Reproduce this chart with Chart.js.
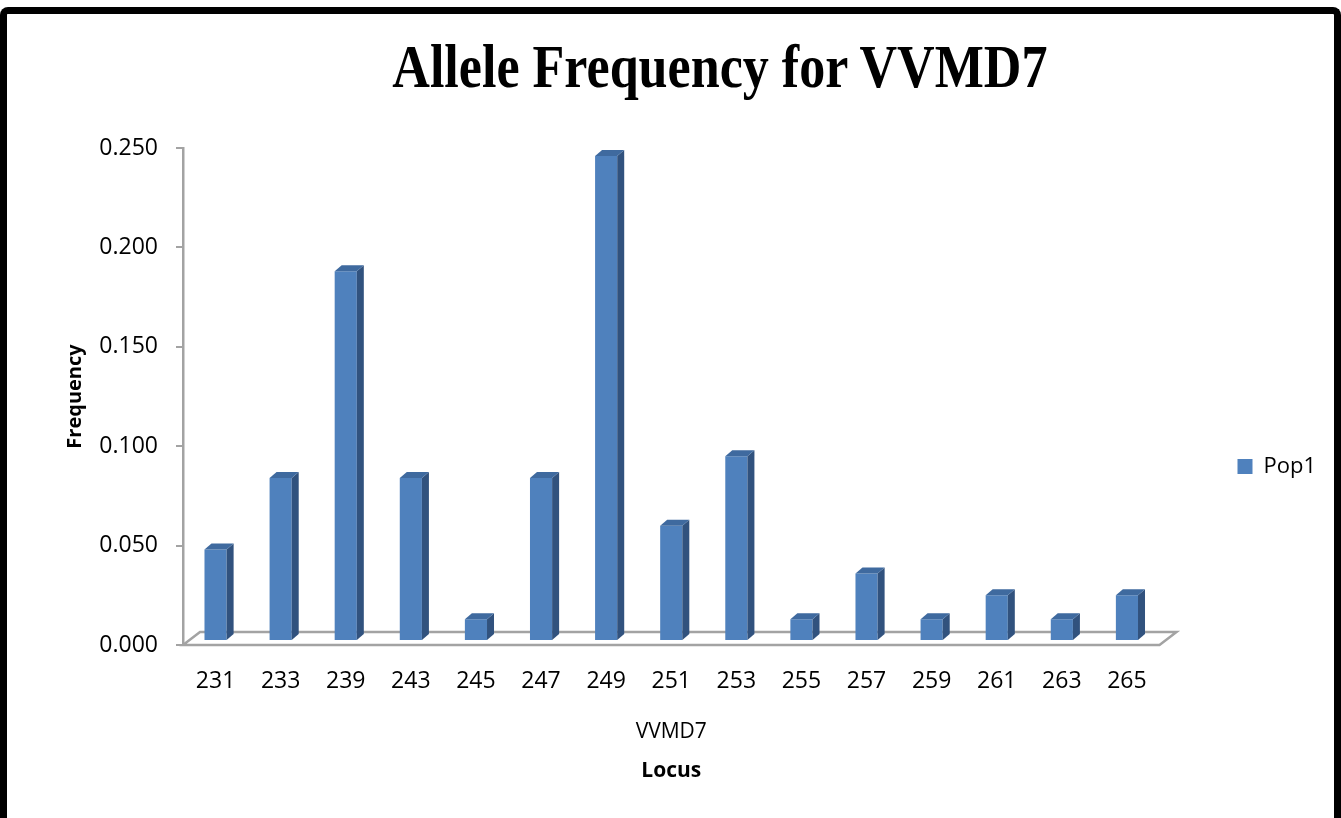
<!DOCTYPE html>
<html>
<head>
<meta charset="utf-8">
<script src="https://cdn.jsdelivr.net/npm/chart.js@4/dist/chart.umd.min.js"></script>
<style>
  html, body { margin: 0; padding: 0; background: #fff; overflow: hidden; }
  #wrap { position: relative; width: 1341px; height: 818px; }
  #frame {
    position: absolute; left: 0; top: 7px; width: 1341px; height: 840px;
    box-sizing: border-box; border: 7px solid #000; border-bottom: none;
    border-radius: 8px 8px 0 0;
  }
  #title {
    position: absolute; left: 0; top: 35px; width: 1714px; text-align: center;
    font: bold 62px "Liberation Serif", "Times New Roman", serif; line-height: 62px;
    color: #000; transform: scaleX(0.84); transform-origin: 0 0; white-space: nowrap;
  }
  canvas { position: absolute; left: 0; top: 0; }
</style>
</head>
<body>
<div id="wrap">
  <div id="frame"></div>
  <div id="title">Allele Frequency for VVMD7</div>
  <canvas id="alleleChart" width="1341" height="818"></canvas>
</div>
<script>
// allele sizes at the VVMD7 locus and their frequencies
const alleles = ['231', '233', '239', '243', '245', '247', '249', '251', '253', '255', '257', '259', '261', '263', '265'];
const pop1 = [0.048, 0.084, 0.188, 0.084, 0.013, 0.084, 0.246, 0.060, 0.095, 0.013, 0.036, 0.013, 0.025, 0.013, 0.025];
const yTicks = [0, 0.05, 0.1, 0.15, 0.2, 0.25];
const locusName = ['VVMD7'];

const frontColor = '#4f81bd';
const sideColor = '#31527e';
const topColor = '#3f6a9f';
const axisGrey = '#a3a3a3';
const depthX = 7, depthY = 6; // extrusion of each column
const floorX = 17, floorY = 13; // depth of the floor plate

// floor plate under the columns
const floorPlugin = {
    id: 'floor',
    beforeDatasetsDraw(chart) {
        const {ctx, chartArea} = chart;
        const y0 = chart.scales.y.getPixelForValue(0);
        ctx.save();
        ctx.strokeStyle = axisGrey;
        ctx.lineWidth = 2.5;
        ctx.beginPath();
        ctx.moveTo(chartArea.left, y0);
        ctx.lineTo(chartArea.left + floorX, y0 - floorY);
        ctx.lineTo(chartArea.right + floorX, y0 - floorY);
        ctx.lineTo(chartArea.right, y0);
        ctx.closePath();
        ctx.stroke();
        ctx.restore();
    }
};

// side and top faces so the bars look like 3-D columns
const columnPlugin = {
    id: 'columns3d',
    afterDatasetsDraw(chart) {
        const ctx = chart.ctx;
        chart.getDatasetMeta(0).data.forEach(bar => {
            const half = bar.width / 2;
            const l = bar.x - half, r = bar.x + half;
            ctx.save();
            ctx.fillStyle = sideColor; //right side
            ctx.beginPath();
            ctx.moveTo(r, bar.y);
            ctx.lineTo(r + depthX, bar.y - depthY);
            ctx.lineTo(r + depthX, bar.base - depthY);
            ctx.lineTo(r, bar.base);
            ctx.closePath();
            ctx.fill();
            ctx.fillStyle = topColor; //top
            ctx.beginPath();
            ctx.moveTo(l, bar.y);
            ctx.lineTo(l + depthX, bar.y - depthY);
            ctx.lineTo(r + depthX, bar.y - depthY);
            ctx.lineTo(r, bar.y);
            ctx.closePath();
            ctx.fill();
            ctx.restore();
        });
    }
};

const ctx = document.getElementById('alleleChart').getContext('2d');
new Chart(ctx, {
    type: 'bar',
    data: {
        labels: alleles,
        datasets: [{
            label: 'Pop1',
            data: pop1,
            xAxisID: 'x',
            backgroundColor: frontColor,
            borderWidth: 0,
            base: 0.0025,
            categoryPercentage: 1,
            barPercentage: 0.34
        }]
    },
    options: {
        responsive: false,
        animation: false,
        events: [],
        layout: { padding: { top: 148, left: 20, right: 15, bottom: 33 } },
        plugins: {
            legend: {
                position: 'right',
                labels: {
                    boxWidth: 15,
                    boxHeight: 15,
                    padding: 78,
                    color: '#000',
                    font: { family: 'Open Sans', size: 22 }
                }
            },
            tooltip: { enabled: false }
        },
        scales: {
            x: {
                grid: { display: false, drawTicks: false },
                border: { display: false },
                ticks: { padding: 23, color: '#000', font: { family: 'Open Sans', size: 23 } },
                afterFit(s) { s.height = 60; }
            },
            x2: {
                type: 'category',
                labels: locusName,
                position: 'bottom',
                offset: true,
                weight: 1,
                grid: { display: false, drawTicks: false },
                border: { display: false },
                ticks: { padding: 14, color: '#000', font: { family: 'Open Sans', size: 21 } },
                title: {
                    display: true,
                    text: 'Locus',
                    color: '#000',
                    padding: { top: 0, bottom: 1 },
                    font: { family: 'Open Sans', size: 21, weight: 'bold' }
                },
                afterFit(s) { s.height = 80; }
            },
            y: {
                min: 0,
                max: 0.25,
                afterBuildTicks(s) { s.ticks = yTicks.map(v => ({ value: v })); },
                grid: { drawOnChartArea: false, drawTicks: true, tickLength: 7, color: axisGrey, lineWidth: 2 },
                border: { display: true, color: axisGrey, width: 2.5 },
                ticks: {
                    padding: 18,
                    color: '#000',
                    font: { family: 'Open Sans', size: 23 },
                    callback: v => v.toFixed(3)
                },
                title: {
                    display: true,
                    text: 'Frequency',
                    color: '#000',
                    padding: { top: 43, bottom: 12 },
                    font: { family: 'Open Sans', size: 20, weight: 'bold' }
                },
                afterFit(s) { s.width = 163; }
            }
        }
    },
    plugins: [floorPlugin, columnPlugin]
});
</script>
</body>
</html>
